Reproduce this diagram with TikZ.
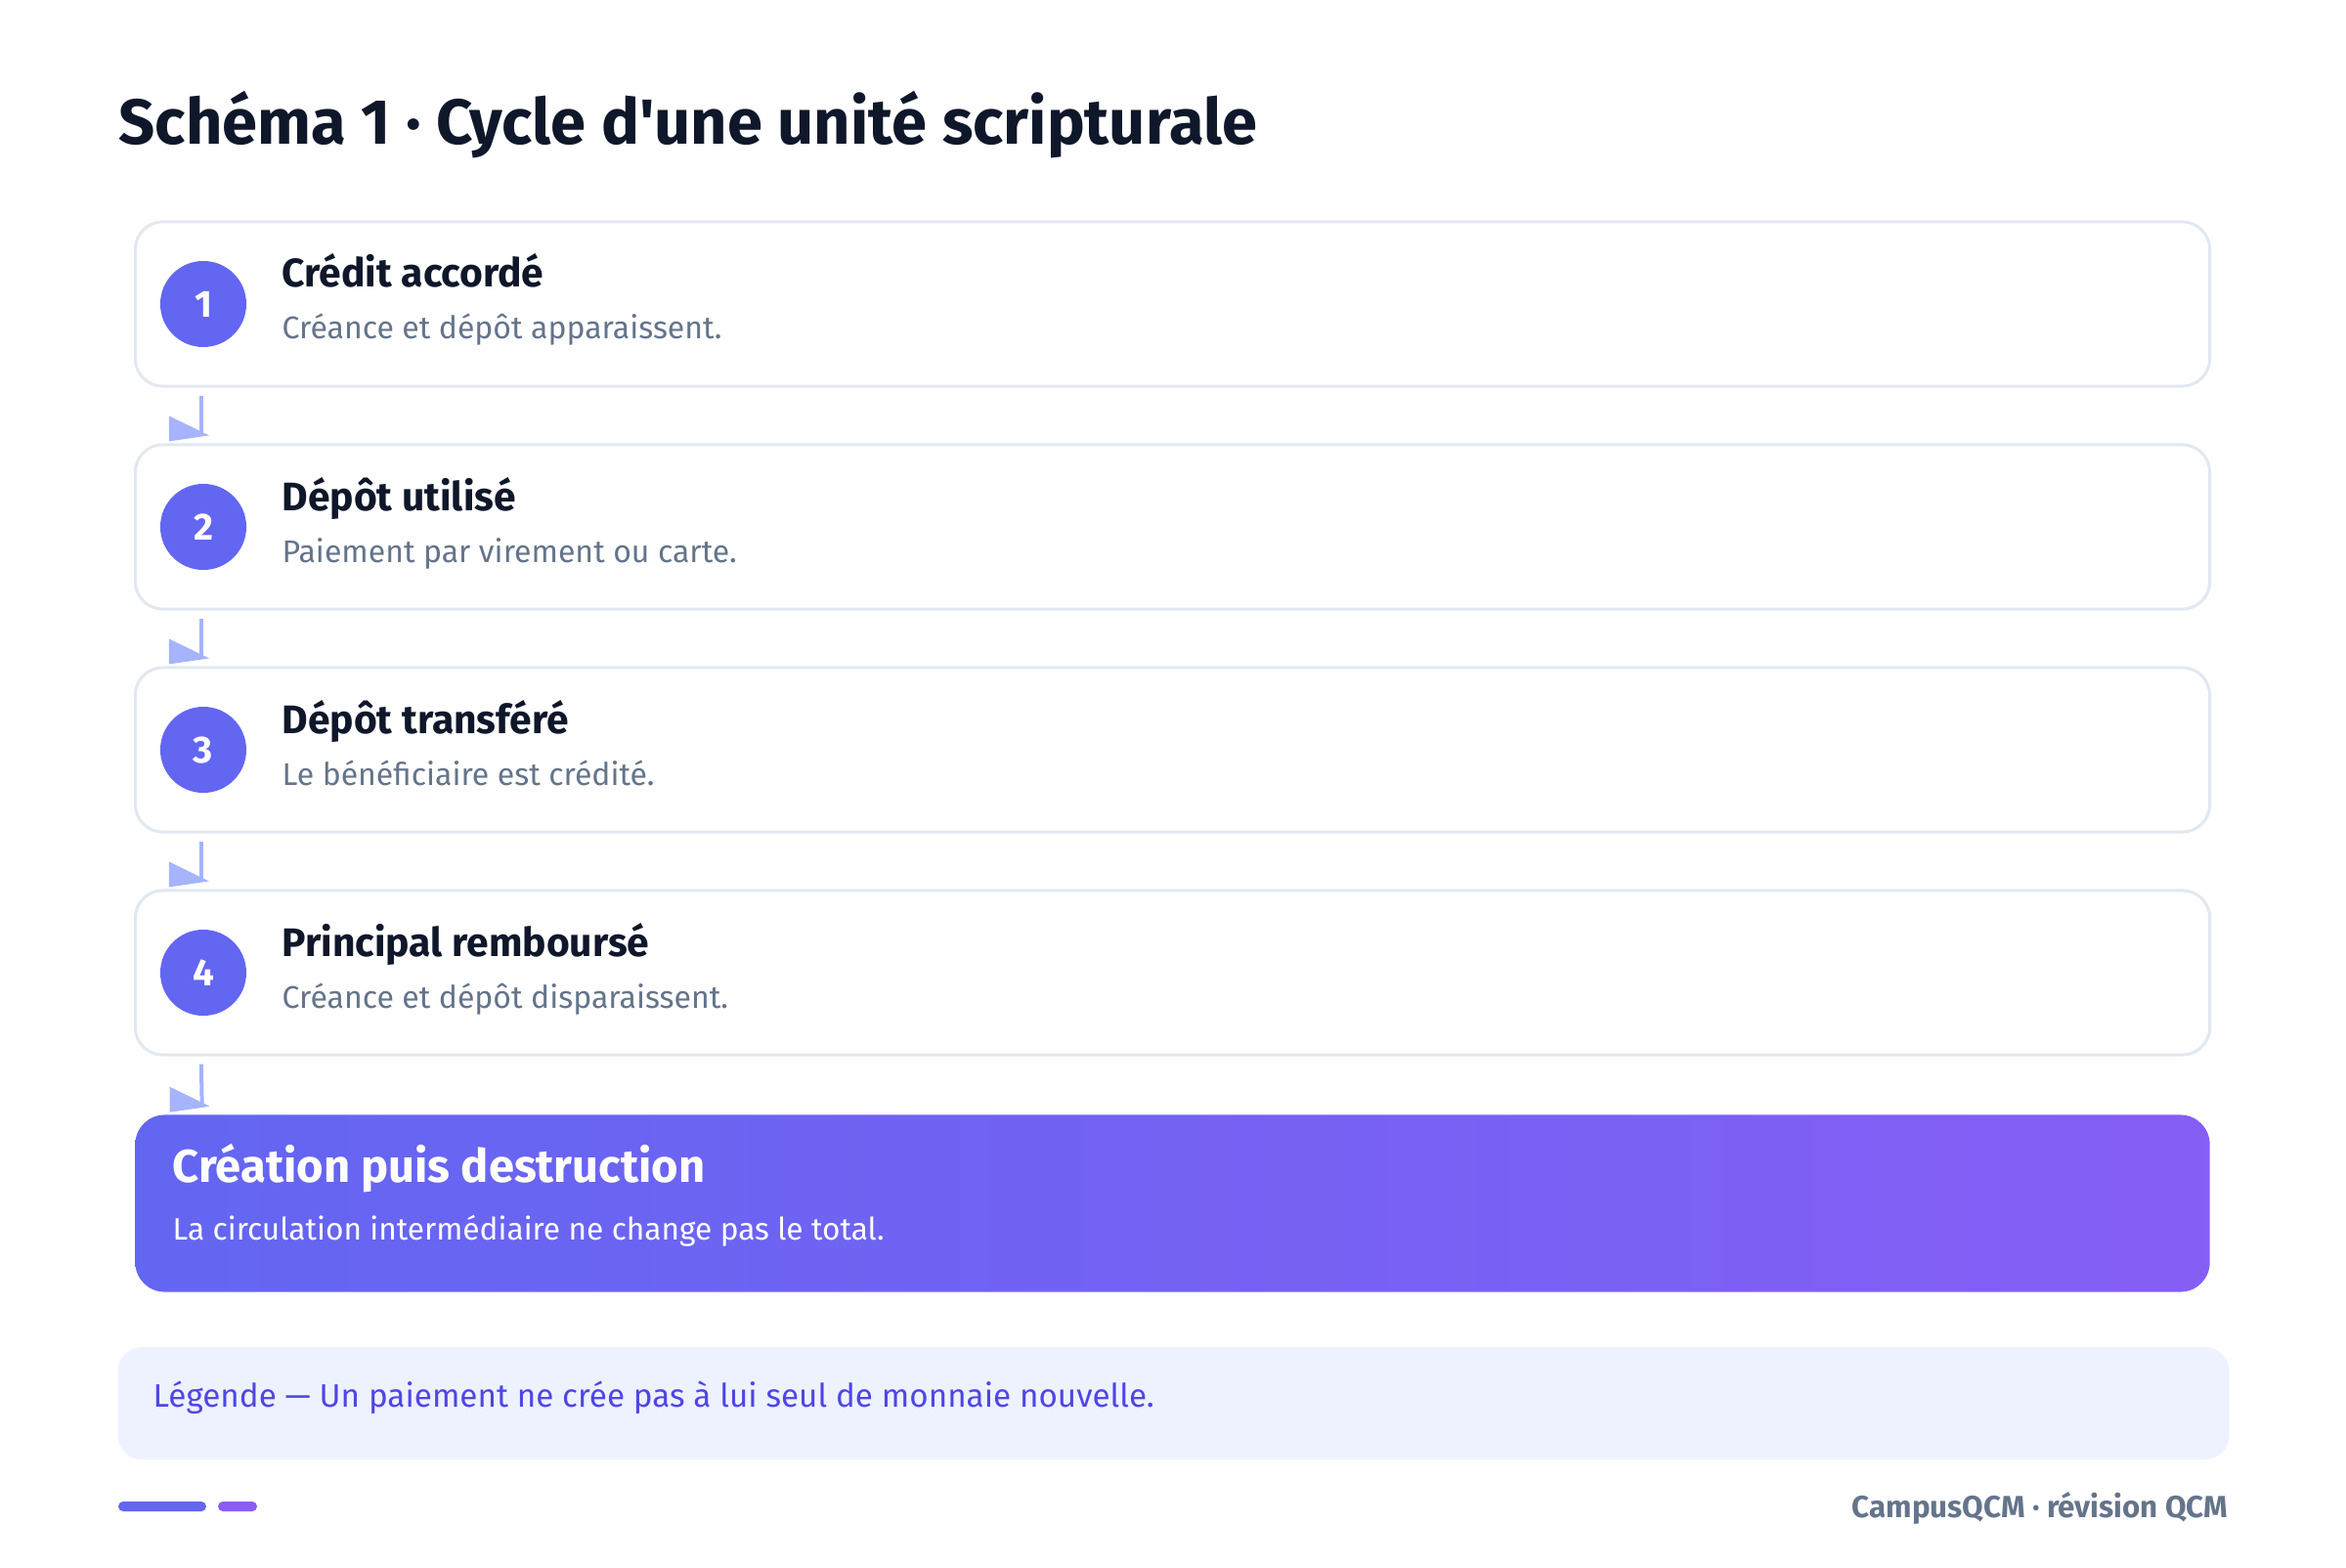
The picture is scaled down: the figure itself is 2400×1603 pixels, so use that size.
\documentclass[tikz,border=0pt]{standalone}
\usepackage{fontspec}
\setmainfont{Fira Sans}
\newfontfamily\titlefont{Fira Sans}[Ligatures=TeXOff]
\usetikzlibrary{calc}
\definecolor{ink}{HTML}{0F172A}
\definecolor{slate}{HTML}{64748B}
\definecolor{cardline}{HTML}{E2E8F0}
\definecolor{indigo}{HTML}{6366F1}
\definecolor{violet}{HTML}{8B5CF6}
\definecolor{connc}{HTML}{A5B4FC}
\definecolor{legfill}{HTML}{EEF2FF}
\definecolor{legtext}{HTML}{4F46E5}
\tikzset{
	card/.style={draw=cardline, line width=0.03cm, fill=white, rounded corners=0.28cm, minimum width=21.21cm, minimum height=1.68cm},
	num/.style={circle, fill=indigo, text=white, minimum size=0.88cm, inner sep=0, font=\fontsize{11}{12}\selectfont\bfseries},
	head/.style={anchor=base west, inner sep=0, text=ink, font=\fontsize{11.6}{13}\selectfont\bfseries},
	sub/.style={anchor=base west, inner sep=0, text=slate, font=\fontsize{9.1}{11}\selectfont},
	conn/.style={draw=connc, line width=0.04cm},
	conntip/.style={fill=connc}
}
% connector from one card to the next one below
\def\stepconn(#1)(#2){\draw[conn] ($(#1.south west)+(69,8)$) -- ($(#2.north west)+(69,-9)$);
	\fill[conntip] ($(#2.north west)+(36,-28)$) -- ++(0,26) -- ++(41,-6) -- cycle;}

\begin{document}
\begin{tikzpicture}[x=0.01cm, y=-0.01cm]
			\useasboundingbox (0,0) rectangle (2400,1603);
			
			\node[anchor=base west, inner sep=0, text=ink, font=\titlefont\fontsize{18.5}{21}\selectfont\bfseries] (title) at (121,148) {Schéma 1 · Cycle d'une unité scripturale};
			
			%% cards
			\node[card] (card1) at (1199.5,311) {};
			\node[num] (n1) at (208,311) {1};
			\node[head] (h1) at (288,294) {Crédit accordé};
			\node[sub] (s1) at (288,347) {Créance et dépôt apparaissent.};
			
			\node[card] (card2) at (1199.5,539) {};
			\node[num] (n2) at (208,539) {2};
			\node[head] (h2) at (288,522) {Dépôt utilisé};
			\node[sub] (s2) at (288,575) {Paiement par virement ou carte.};
			
			\node[card] (card3) at (1199.5,767) {};
			\node[num] (n3) at (208,767) {3};
			\node[head] (h3) at (288,750) {Dépôt transféré};
			\node[sub] (s3) at (288,803) {Le bénéficiaire est crédité.};
			
			\node[card] (card4) at (1199.5,995) {};
			\node[num] (n4) at (208,995) {4};
			\node[head] (h4) at (288,978) {Principal remboursé};
			\node[sub] (s4) at (288,1031) {Créance et dépôt disparaissent.};
			
			%% result
			\node[rounded corners=0.3cm, left color=indigo, right color=violet!85!indigo, minimum width=21.21cm, minimum height=1.81cm] (result) at (1199.5,1231) {};
			\node[anchor=base west, inner sep=0, text=white, font=\fontsize{13.4}{15}\selectfont\bfseries] (rh) at (176,1209) {Création puis destruction};
			\node[anchor=base west, inner sep=0, text=white, font=\fontsize{9}{11}\selectfont] (rs) at (176,1268) {La circulation intermédiaire ne change pas le total.};
			
			\stepconn(card1)(card2)
			\stepconn(card2)(card3)
			\stepconn(card3)(card4)
			\stepconn(card4)(result)
			
			%% legend
			\node[fill=legfill, rounded corners=0.25cm, minimum width=21.59cm, minimum height=1.15cm] (legend) at (1200.5,1435.5) {};
			\node[anchor=base west, inner sep=0, text=legtext, font=\fontsize{9.45}{11}\selectfont] (legtxt) at (156,1439) {Légende — Un paiement ne crée pas à lui seul de monnaie nouvelle.};
			
			%% footer
			\fill[indigo, rounded corners=0.05cm] (121,1536) rectangle (211,1546);
			\fill[violet, rounded corners=0.05cm] (223,1536) rectangle (263,1546);
			\node[anchor=base east, inner sep=0, text=slate, font=\fontsize{8.9}{10}\selectfont\bfseries] (foot) at (2280,1552) {CampusQCM · révision QCM};
			
		\end{tikzpicture}
\end{document}
